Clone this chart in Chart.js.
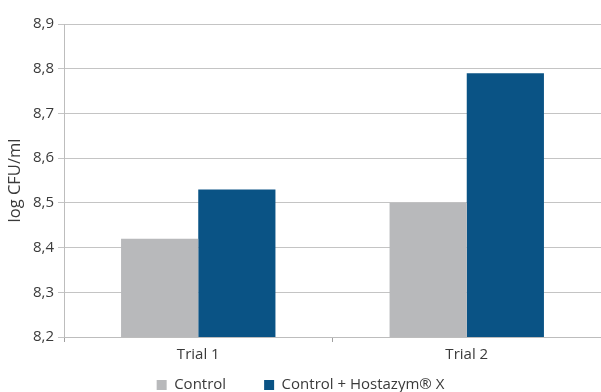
<!DOCTYPE html>
<html><head><meta charset="utf-8">
<script src="https://cdn.jsdelivr.net/npm/chart.js@4"></script>
<style>html,body{margin:0;padding:0;background:#fff}#w{width:601px;height:392px}</style>
</head><body><div id="w"><canvas id="c"></canvas></div>
<script>
const categories = ["Trial 1", "Trial 2"];
const seriesNames = ["Control", "Control + Hostazym\u00AE X"];
const controlValues = [8.42, 8.50];
const hostazymValues = [8.53, 8.79];
const yTicks = [8.2, 8.3, 8.4, 8.5, 8.6, 8.7, 8.8, 8.9];
const FONT = '"Open Sans", sans-serif';
Chart.defaults.font.family = FONT;
Chart.defaults.color = '#3a3a3a';
const legendShift = {
  id: 'legendShift',
  afterLayout(chart) {
    const lg = chart.legend;
    if (lg) { lg.top = 339.5; lg.bottom = chart.height; lg.height = lg.bottom - lg.top; }
  }
};
new Chart(document.getElementById('c'), {
  type: 'bar',
  data: {
    labels: categories,
    datasets: [
      {label: seriesNames[0], data: controlValues, backgroundColor: '#b8b9bb', categoryPercentage: 0.575, barPercentage: 1},
      {label: seriesNames[1], data: hostazymValues, backgroundColor: '#0a5385', categoryPercentage: 0.575, barPercentage: 1}
    ]
  },
  plugins: [legendShift],
  options: {
    responsive: true, maintainAspectRatio: false, animation: false,
    layout: {padding: {top: 24, right: 0, left: 0, bottom: 0}},
    plugins: {
      legend: {position: 'bottom', maxHeight: 18, labels: {boxWidth: 10, boxHeight: 10, padding: 38, font: {size: 15}, color: '#3a3a3a'}},
      tooltip: {enabled: false}
    },
    scales: {
      x: {
        afterFit: s => { s.height = 37; },
        grid: {display: true, drawOnChartArea: false, offset: true, tickLength: 5, color: '#a0a0a0'},
        border: {color: '#bdbdbd'},
        ticks: {font: {size: 15}, padding: 4}
      },
      y: {
        min: 8.2, max: 8.9,
        afterBuildTicks: s => { s.ticks = yTicks.map(v => ({value: v})); },
        afterFit: s => { s.width = 64; },
        grid: {color: '#c4c4c4', tickLength: 6},
        border: {color: '#bdbdbd'},
        ticks: {font: {size: 15}, padding: 4, callback: v => v.toFixed(1).replace('.', ',')},
        title: {display: true, text: 'log CFU/ml', font: {size: 16.5}, padding: {top: 5, bottom: 0}}
      }
    }
  }
});
</script></body></html>
